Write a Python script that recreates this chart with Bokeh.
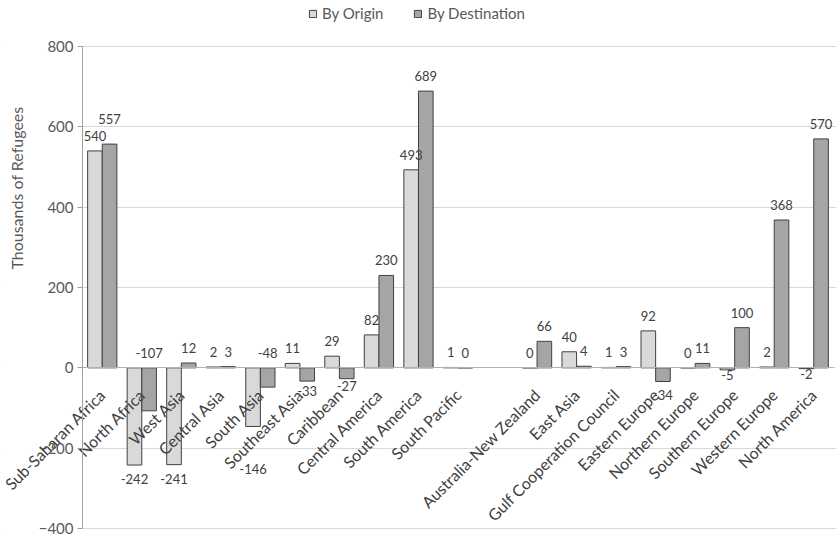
import math
from bokeh.plotting import figure
from bokeh.models import (ColumnDataSource, Range1d, FixedTicker, Legend,
                          LegendItem, Label, BoxAnnotation)
from bokeh.transform import dodge
from bokeh.core.properties import value
from bokeh.embed import file_html
from bokeh.resources import INLINE

# ---------------- data ----------------
categories = ["Sub-Saharan Africa", "North Africa", "West Asia", "Central Asia",
              "South Asia", "Southeast Asia", "Caribbean", "Central America",
              "South America", "South Pacific", " ", "Australia-New Zealand",
              "East Asia", "Gulf Cooperation Council", "Eastern Europe",
              "Northern Europe", "Southern Europe", "Western Europe", "North America"]
by_origin = [540, -242, -241, 2, -146, 11, 29, 82, 493, 1, None,
             0, 40, 1, 92, 0, -5, 2, -2]
by_destination = [557, -107, 12, 3, -48, -33, -27, 230, 689, 0, None,
                  66, 4, 3, -34, 11, 100, 368, 570]
y_ticks = [-400, -200, 0, 200, 400, 600, 800]
series_names = ["By Origin", "By Destination"]
y_title = "Thousands of Refugees"

# ---------------- styles / layout ----------------
FONT = value("Lato")
ORIGIN_FILL = "#d9d9d9"
DEST_FILL = "#a5a5a5"
OUTLINE = "#404040"
BAR_W = 0.37
DODGE = 0.185
W, H = 836, 539
N = len(categories)
# pixel targets inside the canvas
PX_AXIS_LEFT, PX_AXIS_RIGHT = 82, 833      # category band edges
PX_TOP_TICK, PX_BOTTOM_TICK = 46, 528      # 800 and -400
ux = (PX_AXIS_RIGHT - PX_AXIS_LEFT) / N
uy = (PX_BOTTOM_TICK - PX_TOP_TICK) / (y_ticks[-1] - y_ticks[0])
x_start = -0.5 - PX_AXIS_LEFT / ux
x_end = N - 0.5 + (W - PX_AXIS_RIGHT) / ux
y_end = y_ticks[-1] + PX_TOP_TICK / uy
y_start = y_ticks[0] - (H - PX_BOTTOM_TICK) / uy

# label placement tweaks (screen px, + = down), mimicking the reference
label_adjust = {("dest", "Sub-Saharan Africa"): -10,
                ("dest", "Southeast Asia"): -4,
                ("dest", "Caribbean"): -7,
                ("origin", "Southern Europe"): -9,
                ("origin", "North America"): -9,
                ("origin", "South Asia"): 29}
label_on_zero = {("dest", "North Africa"), ("dest", "South Asia")}

nan = float("nan")
xs_idx = list(range(N))
src = ColumnDataSource(dict(
    x=xs_idx,
    origin=[nan if v is None else v for v in by_origin],
    dest=[nan if v is None else v for v in by_destination],
))

p = figure(x_range=Range1d(x_start, x_end), y_range=Range1d(y_start, y_end),
           width=W, height=H, output_backend="svg", toolbar_location=None,
           min_border_left=0, min_border_right=0, min_border_top=0,
           min_border_bottom=0)
p.outline_line_color = None
p.background_fill_color = "white"

p.xgrid.grid_line_color = None
p.ygrid.ticker = FixedTicker(ticks=y_ticks)
p.ygrid.grid_line_color = "#d9d9d9"
# keep the gridlines to the plot area (right of the value axis)
p.add_layout(BoxAnnotation(right=-0.5, fill_color="white", fill_alpha=1,
                           line_alpha=0, level="underlay"))

r_o = p.vbar(x=dodge("x", -DODGE), top="origin", bottom=0, width=BAR_W,
             source=src, fill_color=ORIGIN_FILL, line_color=OUTLINE,
             line_width=1)
r_d = p.vbar(x=dodge("x", DODGE), top="dest", bottom=0, width=BAR_W,
             source=src, fill_color=DEST_FILL, line_color=OUTLINE,
             line_width=1)

# data labels
for key, vals, off in (("origin", by_origin, -DODGE), ("dest", by_destination, DODGE)):
    lx, ly, txt, yo = [], [], [], []
    for i, (c, v) in enumerate(zip(categories, vals)):
        if v is None:
            continue
        lx.append(i)
        txt.append(str(v))
        if (key, c) in label_on_zero:
            ly.append(0)
            yo.append(-15)
        else:
            ly.append(v)
            yo.append((-15 if v >= 0 else 14) + label_adjust.get((key, c), 0))
    ls = ColumnDataSource(dict(x=lx, y=ly, t=txt, yo=yo))
    p.text(x=dodge("x", off), y="y", text="t", y_offset="yo",
           source=ls, text_align="center", text_baseline="middle",
           text_font=FONT, text_font_size="13px", text_color="#404040")

# category axis crossing at zero, as in the reference
p.xaxis.fixed_location = 0
p.xaxis.bounds = (-0.5, N - 0.5)
p.xaxis.ticker = FixedTicker(ticks=xs_idx)
p.xaxis.major_label_overrides = {i: c for i, c in enumerate(categories)}
p.xaxis.axis_line_color = "#b0b0b0"
p.xaxis.major_tick_line_color = None
p.xaxis.minor_tick_line_color = None
p.xaxis.major_label_orientation = math.pi / 4
p.xaxis.major_label_text_font = "Lato"
p.xaxis.major_label_text_font_size = "16px"
p.xaxis.major_label_text_color = "#404040"
p.xaxis.major_label_standoff = 18

# value axis at the left edge of the category band
p.yaxis.fixed_location = -0.5
p.yaxis.bounds = (y_ticks[0], y_ticks[-1])
p.yaxis.ticker = FixedTicker(ticks=y_ticks)
p.yaxis.axis_line_color = "#a0a0a0"
p.yaxis.major_tick_line_color = "#a0a0a0"
p.yaxis.major_tick_out = 5
p.yaxis.major_tick_in = 0
p.yaxis.minor_tick_line_color = None
p.yaxis.major_label_text_font = "Lato"
p.yaxis.major_label_text_font_size = "15px"
p.yaxis.major_label_text_color = "#595959"
p.yaxis.major_label_standoff = 4

# y title (placed high on the left as in the reference)
p.add_layout(Label(x=16, y=H - 106, x_units="screen", y_units="screen",
                   text=y_title, angle=math.pi / 2, text_align="right",
                   text_baseline="middle", text_font="Lato",
                   text_font_size="16px", text_color="#595959"))

# legend above the plot area
legend = Legend(items=[LegendItem(label=series_names[0], renderers=[r_o]),
                       LegendItem(label=series_names[1], renderers=[r_d])],
                orientation="horizontal", location=(308, H - 22),
                border_line_color=None, background_fill_alpha=0,
                label_text_font="Lato", label_text_font_size="15px",
                label_text_color="#595959", glyph_width=9, glyph_height=9,
                label_standoff=5, spacing=30, padding=0, margin=0)
p.add_layout(legend, "center")

open("out.html", "w").write(file_html(p, INLINE))
